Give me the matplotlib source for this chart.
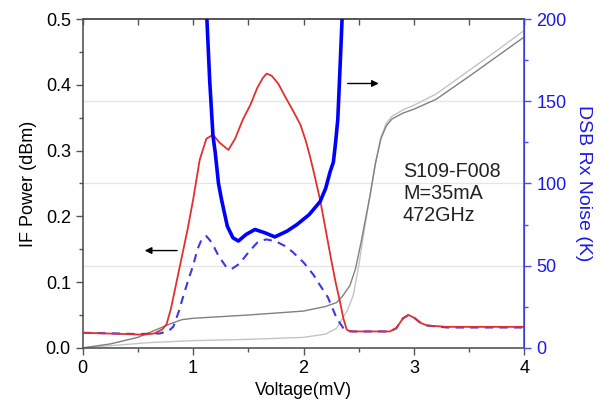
import matplotlib
matplotlib.use("Agg")
import matplotlib.pyplot as plt
from matplotlib.ticker import MultipleLocator

plt.rcParams['font.family'] = ['Liberation Sans', 'DejaVu Sans']

# IF power, hot load (red)
v_hot = [0, 0.2, 0.4, 0.55, 0.65, 0.72, 0.76, 0.8, 0.85, 0.9, 0.95, 1.0, 1.06, 1.12, 1.18,
         1.24, 1.32, 1.38, 1.45, 1.52, 1.58, 1.63, 1.665, 1.71, 1.77, 1.84, 1.9, 1.97, 2.02,
         2.06, 2.1, 2.15, 2.2, 2.25, 2.29, 2.33, 2.36, 2.39, 2.42, 2.6, 2.78, 2.84, 2.9, 2.95,
         3.0, 3.06, 3.12, 3.3, 3.6, 4.0]
p_hot = [0.023, 0.022, 0.021, 0.020, 0.022, 0.028, 0.036, 0.06, 0.10, 0.14, 0.18, 0.225,
         0.286, 0.318, 0.324, 0.312, 0.301, 0.318, 0.347, 0.37, 0.395, 0.41, 0.417, 0.414,
         0.402, 0.38, 0.362, 0.34, 0.315, 0.29, 0.262, 0.225, 0.18, 0.134, 0.10, 0.07, 0.045,
         0.028, 0.025, 0.025, 0.025, 0.03, 0.045, 0.05, 0.046, 0.038, 0.034, 0.032, 0.032, 0.032]

# IF power, cold load (blue dashed)
v_cold = [0, 0.3, 0.5, 0.7, 0.78, 0.82, 0.87, 0.91, 0.96, 1.0, 1.04, 1.08, 1.12, 1.17, 1.23,
          1.3, 1.35, 1.42, 1.5, 1.58, 1.66, 1.75, 1.83, 1.9, 2.0, 2.09, 2.15, 2.22, 2.3, 2.36,
          2.39, 2.45, 2.6, 2.78, 2.84, 2.9, 2.95, 3.0, 3.06, 3.12, 3.3, 3.6, 4.0]
p_cold = [0.023, 0.022, 0.021, 0.022, 0.026, 0.032, 0.055, 0.078, 0.105, 0.125, 0.15, 0.166,
          0.17, 0.16, 0.14, 0.123, 0.12, 0.128, 0.145, 0.16, 0.165, 0.162, 0.155, 0.146, 0.13,
          0.111, 0.095, 0.077, 0.045, 0.03, 0.026, 0.025, 0.025, 0.025, 0.03, 0.045, 0.05,
          0.046, 0.038, 0.034, 0.031, 0.031, 0.031]

# Pumped IV curve (dark gray)
v_iv_p = [0, 0.25, 0.5, 0.7, 0.8, 0.9, 1.0, 1.5, 2.0, 2.2, 2.3, 2.35, 2.42, 2.47, 2.52, 2.6,
          2.65, 2.7, 2.75, 2.8, 2.9, 3.0, 3.2, 3.5, 3.75, 4.0]
i_iv_p = [0, 0.006, 0.016, 0.03, 0.037, 0.043, 0.045, 0.05, 0.056, 0.063, 0.069, 0.078, 0.095,
          0.12, 0.16, 0.23, 0.28, 0.318, 0.338, 0.348, 0.357, 0.363, 0.378, 0.413, 0.443, 0.473]

# Unpumped IV curve (light gray)
v_iv_u = [0, 0.3, 0.6, 1.0, 1.5, 2.0, 2.2, 2.3, 2.4, 2.45, 2.5, 2.55, 2.6, 2.65, 2.7, 2.75,
          2.8, 2.9, 3.0, 3.2, 3.5, 3.75, 4.0]
i_iv_u = [0, 0.004, 0.008, 0.011, 0.013, 0.016, 0.021, 0.03, 0.058, 0.08, 0.125, 0.18, 0.23,
          0.28, 0.32, 0.342, 0.352, 0.362, 0.369, 0.386, 0.422, 0.452, 0.483]

# DSB receiver noise (right axis)
v_noise = [1.115, 1.125, 1.15, 1.18, 1.2, 1.23, 1.258, 1.31, 1.36, 1.41, 1.48, 1.56, 1.65,
           1.74, 1.85, 1.94, 2.05, 2.15, 2.2, 2.24, 2.27, 2.29, 2.31, 2.33, 2.355]
t_noise = [213, 200, 163, 129, 119, 100, 90, 74, 67, 65, 69, 72, 70, 67.5, 71, 75, 81, 89,
           97, 107, 113, 125, 139, 170, 210]

fig = plt.figure(figsize=(6.12, 4.05), dpi=100)
ax = fig.add_axes([0.135, 0.141, 0.722, 0.812])

spine_col = '#555555'
for y in [0.125, 0.25, 0.375]:
    ax.axhline(y, color='#e6e6e6', lw=1.0, zorder=0)

ax.plot(v_iv_u, i_iv_u, color='#c4c4c4', lw=1.0, zorder=2)
ax.plot(v_iv_p, i_iv_p, color='#808080', lw=1.0, zorder=2)
ax.plot(v_cold, p_cold, color='#3a3ae0', lw=1.5, ls=(0, (4, 3)), zorder=3)
ax.plot(v_hot, p_hot, color='#e03030', lw=1.3, zorder=4)

ax.set_xlim(0, 4)
ax.set_ylim(0, 0.5)
ax.xaxis.set_major_locator(MultipleLocator(1))
ax.xaxis.set_minor_locator(MultipleLocator(0.5))
ax.yaxis.set_major_locator(MultipleLocator(0.1))
ax.yaxis.set_minor_locator(MultipleLocator(0.05))
ax.yaxis.set_major_formatter(matplotlib.ticker.FormatStrFormatter('%.1f'))
ax.tick_params(which='major', direction='out', length=5, width=1.0, color=spine_col, labelsize=13)
ax.tick_params(which='minor', direction='out', length=3, width=1.0, color=spine_col)
ax.tick_params(axis='x', pad=4)
for s in ['left', 'bottom', 'top']:
    ax.spines[s].set_color(spine_col)
    ax.spines[s].set_linewidth(1.2)
ax.set_xlabel('Voltage(mV)', fontsize=12.7, labelpad=3)
ax.set_ylabel('IF Power (dBm)', fontsize=13, labelpad=6)

sec = ax.secondary_xaxis('top')
sec.xaxis.set_major_locator(MultipleLocator(0.5))
sec.tick_params(direction='in', length=4, width=1.0, color=spine_col, labeltop=False)
sec.spines['top'].set_color(spine_col)
sec.spines['top'].set_linewidth(1.2)

ax2 = ax.twinx()
ax2.plot(v_noise, t_noise, color='#0000ff', lw=2.6, zorder=5)
ax2.set_ylim(0, 200)
ax2.yaxis.set_major_locator(MultipleLocator(50))
ax2.yaxis.set_minor_locator(MultipleLocator(25))
blue_sp = '#4a4aff'
ax2.spines['right'].set_color(blue_sp)
ax2.spines['right'].set_linewidth(1.2)
for s in ['left', 'bottom', 'top']:
    ax2.spines[s].set_visible(False)
ax2.tick_params(which='major', direction='out', length=5, width=1.0, color=blue_sp,
                labelcolor='#1a1ae6', labelsize=13)
ax2.tick_params(which='minor', direction='out', length=3, width=1.0, color=blue_sp)
ax2.set_ylabel('DSB Rx Noise (K)', color='#1a1ae6', fontsize=14, rotation=-90, labelpad=18)

ax.annotate('', xy=(0.537, 0.148), xytext=(0.88, 0.148),
            arrowprops=dict(arrowstyle='-|>', color='black', lw=1.0, mutation_scale=10))
ax.annotate('', xy=(2.706, 0.402), xytext=(2.374, 0.402),
            arrowprops=dict(arrowstyle='-|>', color='black', lw=1.0, mutation_scale=10))

ax.text(2.9, 0.283, 'S109-F008\nM=35mA\n472GHz', fontsize=14.2, va='top', ha='left',
        linespacing=1.2, color='#222222')

fig.savefig('out.png', dpi=100)
